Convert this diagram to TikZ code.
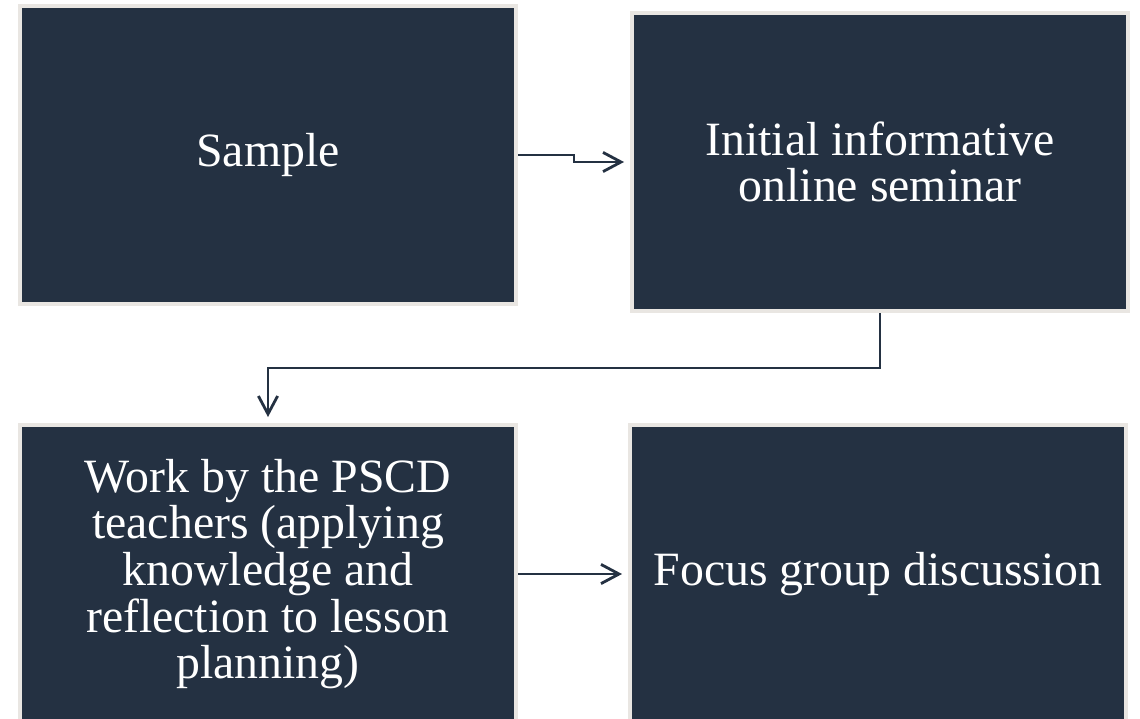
\documentclass[tikz,border=0pt]{standalone}
\usepackage{fontspec}
\setmainfont{Liberation Serif}
\usepackage{tikz}
\usetikzlibrary{positioning,arrows.meta}
\definecolor{boxnavy}{HTML}{243142}
\definecolor{boxrim}{HTML}{E9E6E2}

\begin{document}
\begin{tikzpicture}[      align=center,   text=white,
      stage/.style={draw=boxrim, fill=boxnavy, line width=0.1cm,
                    minimum width=12.4cm, minimum height=7.45cm,
                    font=\fontsize{34}{33.2}\selectfont },  ]

    \useasboundingbox (0,0) rectangle (28.5,-17.95);

    \begin{scope}[node distance=2.8cm]
      \node[stage] at (6.7,-3.875)                 (sample) {Sample};
      \node[stage, right = of sample, yshift=-0.175cm] (init)   {Initial informative\\ online seminar};
    \end{scope}

    \begin{scope}[node distance=2.925cm]
      \node[stage, below = of sample ] (work)  {Work by the PSCD\\ teachers (applying\\ knowledge and\\
        reflection to lesson\\ planning)};
    \end{scope}

    \node[stage, right = 2.75cm of work] (focus) {Focus group discussion};

    \begin{scope}[line width=2pt, draw=boxnavy, shorten >=0.15cm,
                  >={Straight Barb[length=0.45cm, width=0.48cm]} ]
        \draw[->] (sample.east) -- ++(1.4,0) |- (init.west);
        \draw[->] (init.south)  -- ++(0,-1.375) -| (work.north);
        \draw[->] (work)        -- (focus);
    \end{scope}

\end{tikzpicture}
\end{document}
